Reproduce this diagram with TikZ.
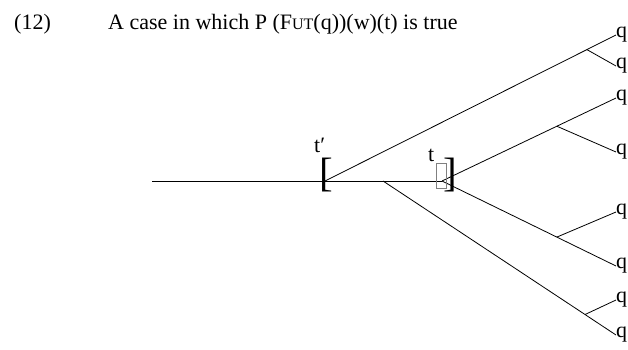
\documentclass[tikz,border=0pt]{standalone}
\usepackage{fontspec}
\setmainfont{Liberation Serif}
\usetikzlibrary{calc}
\begin{document}
\begin{tikzpicture}[x=1pt,y=-1pt,
  lbl/.style={inner sep=0pt, anchor=base west, font=\fontsize{22}{24}\selectfont},
  qlbl/.style={inner sep=0pt, anchor=west, font=\fontsize{22}{24}\selectfont},
  brk/.style={inner sep=0pt, anchor=base west, font=\fontsize{41}{41}\selectfont},
  ln/.style={line width=0.8pt}]
\useasboundingbox (0,0) rectangle (628,350);
\node[lbl] (num) at (14,30) {(12)};
\node[lbl] (title) at (108,30) {A case in which P (F{\fontsize{16}{16}\selectfont UT}(q))(w)(t) is true};
% time points
\coordinate (start) at (152,181);
\coordinate (tp) at (325,181);
\coordinate (split) at (383,181);
\coordinate (tt) at (442,181);
% q labels
\node[qlbl] (q1) at (616,35) {q};
\node[qlbl] (q2) at (616,66) {q};
\node[qlbl] (q3) at (616,98) {q};
\node[qlbl] (q4) at (616,152) {q};
\node[qlbl] (q5) at (616,212) {q};
\node[qlbl] (q6) at (616,266) {q};
\node[qlbl] (q7) at (616,300) {q};
\node[qlbl] (q8) at (616,335) {q};
% branch points
\coordinate (ba) at ($(tp)!0.90!(q1.west)$);
\coordinate (bb) at ($(tt)!0.66!(q3.west)$);
\coordinate (bc) at ($(tt)!0.66!(q6.west)$);
\coordinate (bd) at ($(split)!0.867!(q8.west)$);
% lines
\draw[ln] (start) -- (tt);
\draw[ln] (tp) -- (q1.west);
\draw[ln] (ba) -- (q2.west);
\draw[ln] (tt) -- (q3.west);
\draw[ln] (bb) -- (q4.west);
\draw[ln] (tt) -- (q6.west);
\draw[ln] (bc) -- (q5.west);
\draw[ln] (split) -- (q8.west);
\draw[ln] (bd) -- (q7.west);
% brackets and labels
\node[brk] (lb) at (319,186.6) {[};
\node[brk] (rb) at (443.5,186.6) {]};
\node[draw=gray, line width=0.6pt, minimum width=10pt, minimum height=25pt, inner sep=0pt] (box) at (441,175.5) {};
\node[lbl] (tpl) at (314,152) {t′};
\node[lbl] (tl) at (428,161) {t};
\end{tikzpicture}
\end{document}
